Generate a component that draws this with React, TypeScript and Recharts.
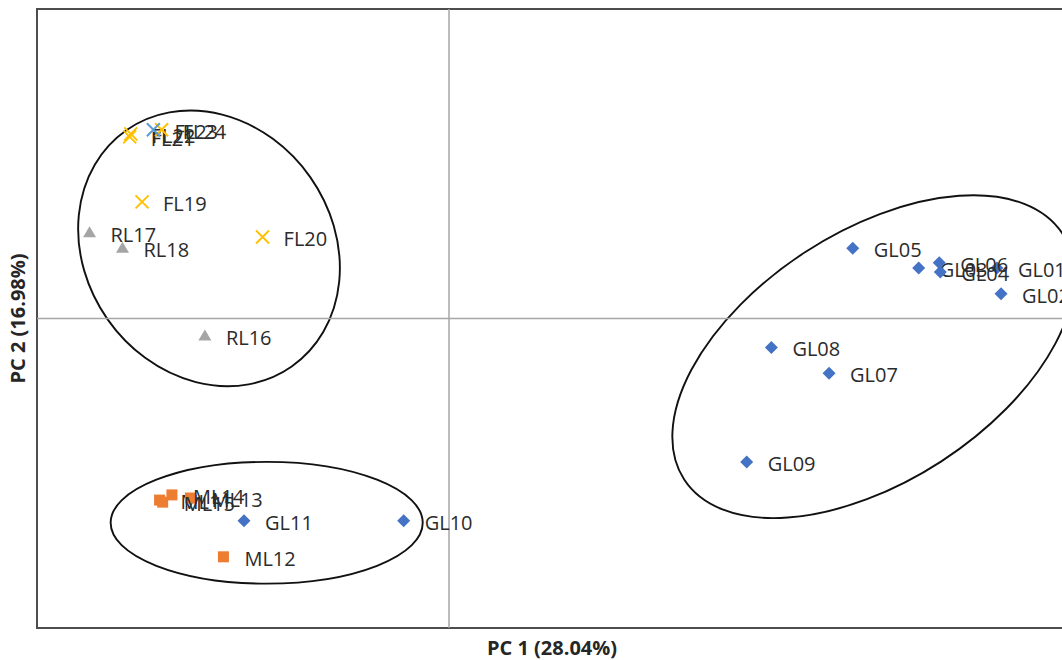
import React from "react";
import { ScatterChart, Scatter, XAxis, YAxis, ReferenceLine, ReferenceArea } from "recharts";

// PCA scores
const glNames = ["GL01", "GL02", "GL03", "GL04", "GL05", "GL06", "GL07", "GL08", "GL09", "GL10", "GL11"];
const glPc1 = [5.32, 5.36, 4.56, 4.77, 3.92, 4.76, 3.69, 3.13, 2.89, -0.44, -1.99];
const glPc2 = [0.49, 0.24, 0.49, 0.45, 0.68, 0.54, -0.53, -0.28, -1.39, -1.96, -1.96];

const mlNames = ["ML11", "ML12", "ML13", "ML14", "ML15"];
const mlPc1 = [-2.81, -2.19, -2.51, -2.69, -2.78];
const mlPc2 = [-1.76, -2.31, -1.74, -1.71, -1.78];

const rlNames = ["RL16", "RL17", "RL18"];
const rlPc1 = [-2.37, -3.49, -3.17];
const rlPc2 = [-0.17, 0.83, 0.68];

const flNames = ["FL19", "FL20", "FL21", "FL22", "FL24"];
const flPc1 = [-2.98, -1.81, -3.1, -3.09, -2.79];
const flPc2 = [1.13, 0.79, 1.76, 1.79, 1.83];

const fl23Names = ["FL23"];
const fl23Pc1 = [-2.87];
const fl23Pc2 = [1.83];

// group outlines: centre, semi-axes (in PC units), rotation in degrees
const ellipses = [
  { cx: -2.33, cy: 0.68, rx: 1.4, ry: 1.2, angle: 55 },
  { cx: -1.77, cy: -1.98, rx: 1.515, ry: 0.59, angle: 0 },
  { cx: 4.12, cy: -0.37, rx: 2.19, ry: 1.21, angle: -33 },
];

const build = (names: string[], xs: number[], ys: number[]) =>
  names.map((name, i) => ({ name, x: xs[i], y: ys[i] }));

const glData = build(glNames, glPc1, glPc2);
const mlData = build(mlNames, mlPc1, mlPc2);
const rlData = build(rlNames, rlPc1, rlPc2);
const flData = build(flNames, flPc1, flPc2);
const fl23Data = build(fl23Names, fl23Pc1, fl23Pc2);

const FONT = "'Open Sans', sans-serif";

function label(cx: number, cy: number, text: string) {
  return (
    <text x={cx + 21} y={cy + 9} fontFamily={FONT} fontSize={20} fill="#2b2b2b">
      {text}
    </text>
  );
}

const diamond = (p: any) => (
  <g>
    <path d={`M${p.cx},${p.cy - 6.5}L${p.cx + 6.5},${p.cy}L${p.cx},${p.cy + 6.5}L${p.cx - 6.5},${p.cy}Z`} fill="#4472C4" />
    {label(p.cx, p.cy, p.payload.name)}
  </g>
);

const square = (p: any) => (
  <g>
    <rect x={p.cx - 5.5} y={p.cy - 5.5} width={11} height={11} fill="#ED7D31" />
    {label(p.cx, p.cy, p.payload.name)}
  </g>
);

const triangle = (p: any) => (
  <g>
    <path d={`M${p.cx},${p.cy - 6.5}L${p.cx + 6.5},${p.cy + 4.5}L${p.cx - 6.5},${p.cy + 4.5}Z`} fill="#A5A5A5" />
    {label(p.cx, p.cy, p.payload.name)}
  </g>
);

const cross = (color: string) => (p: any) => (
  <g>
    <path
      d={`M${p.cx - 6.5},${p.cy - 6.5}L${p.cx + 6.5},${p.cy + 6.5}M${p.cx - 6.5},${p.cy + 6.5}L${p.cx + 6.5},${p.cy - 6.5}`}
      stroke={color}
      strokeWidth={1.9}
      fill="none"
    />
    {label(p.cx, p.cy, p.payload.name)}
  </g>
);

const ellipseShape = (angle: number) => (p: any) => {
  const w = Math.abs(p.width);
  const h = Math.abs(p.height);
  const cx = Math.min(p.x, p.x + p.width) + w / 2;
  const cy = Math.min(p.y, p.y + p.height) + h / 2;
  return (
    <ellipse
      cx={cx}
      cy={cy}
      rx={w / 2}
      ry={h / 2}
      transform={`rotate(${angle} ${cx} ${cy})`}
      fill="none"
      stroke="#111111"
      strokeWidth={1.9}
    />
  );
};

export default function App() {
  return (
    <div style={{ position: "absolute", left: 0, top: 0, width: 1062, height: 660, overflow: "hidden", background: "#ffffff" }}>
      <ScatterChart width={1100} height={660} margin={{ top: 9, right: 33, bottom: 0, left: 0 }}>
        <XAxis
          type="number"
          dataKey="x"
          domain={[-4, 6]}
          allowDataOverflow
          tick={false}
          tickLine={false}
          axisLine={false}
          height={32}
          label={{ value: "PC 1 (28.04%)", position: "center", dy: 4, fontFamily: FONT, fontWeight: 700, fontSize: 20, fill: "#262626" }}
        />
        <YAxis
          type="number"
          dataKey="y"
          domain={[-3, 3]}
          allowDataOverflow
          tick={false}
          tickLine={false}
          axisLine={false}
          width={37}
          label={{ value: "PC 2 (16.98%)", position: "center", angle: -90, dx: -1, fontFamily: FONT, fontWeight: 700, fontSize: 20, fill: "#262626" }}
        />
        <ReferenceLine x={0} stroke="#a6a6a6" strokeWidth={1.5} />
        <ReferenceLine y={0} stroke="#a6a6a6" strokeWidth={1.5} />
        <ReferenceArea x1={-4} x2={6} y1={-3} y2={3} fill="none" stroke="#4d4d4d" strokeWidth={2} ifOverflow="visible" />
        {ellipses.map((e, i) => (
          <ReferenceArea
            key={i}
            x1={e.cx - e.rx}
            x2={e.cx + e.rx}
            y1={e.cy - e.ry}
            y2={e.cy + e.ry}
            ifOverflow="visible"
            shape={ellipseShape(e.angle)}
          />
        ))}
        <Scatter name="GL" data={glData} shape={diamond} isAnimationActive={false} />
        <Scatter name="ML" data={mlData} shape={square} isAnimationActive={false} />
        <Scatter name="RL" data={rlData} shape={triangle} isAnimationActive={false} />
        <Scatter name="FL" data={flData} shape={cross("#FFC000")} isAnimationActive={false} />
        <Scatter name="FL23" data={fl23Data} shape={cross("#5B9BD5")} isAnimationActive={false} />
      </ScatterChart>
    </div>
  );
}
